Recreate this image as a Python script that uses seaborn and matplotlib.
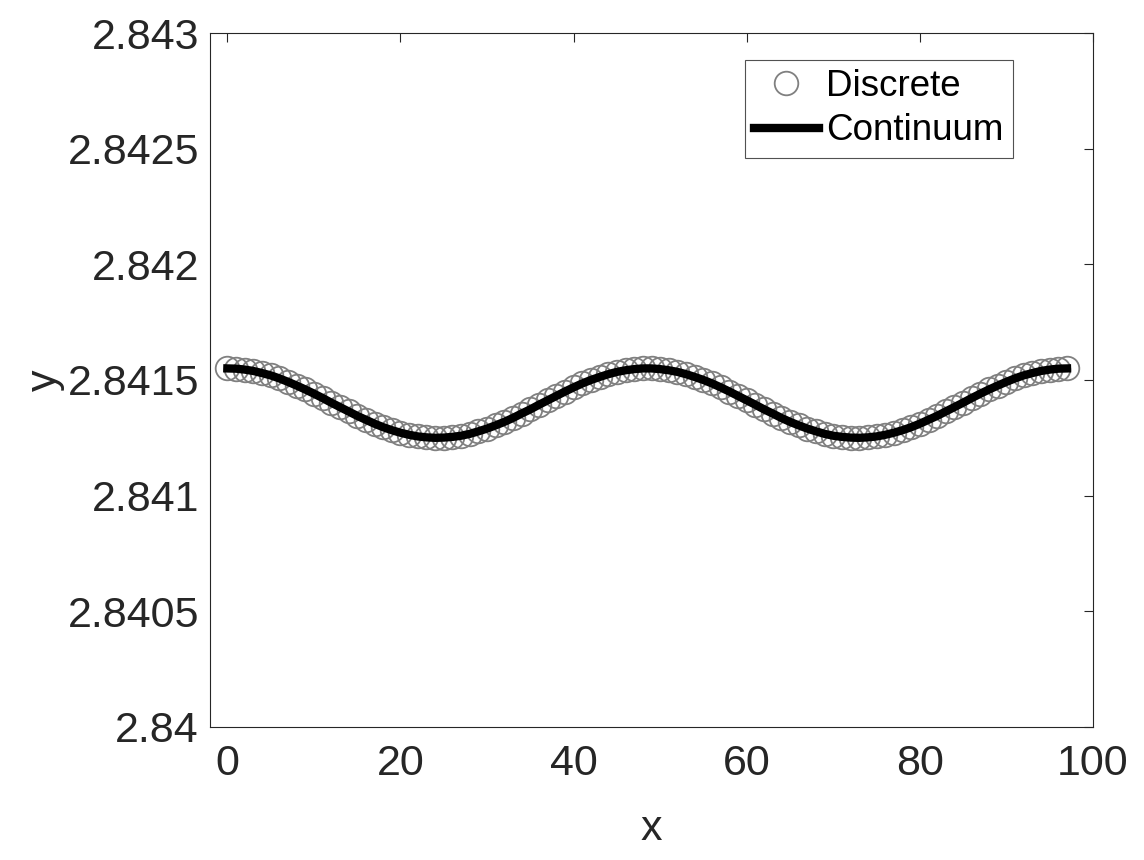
import matplotlib
matplotlib.use("Agg")
import matplotlib.pyplot as plt
import seaborn as sns
import numpy as np
import pandas as pd

# discrete points (x = 0..97)
x_disc = np.arange(98)
y_disc = [
    2.841550, 2.841549, 2.841545, 2.841539, 2.841530, 2.841520, 2.841507, 2.841492,
    2.841476, 2.841459, 2.841441, 2.841422, 2.841402, 2.841383, 2.841364, 2.841345,
    2.841328, 2.841311, 2.841296, 2.841283, 2.841272, 2.841263, 2.841256, 2.841252,
    2.841250, 2.841251, 2.841254, 2.841259, 2.841267, 2.841278, 2.841290, 2.841304,
    2.841319, 2.841336, 2.841355, 2.841373, 2.841393, 2.841412, 2.841431, 2.841450,
    2.841468, 2.841485, 2.841500, 2.841513, 2.841525, 2.841535, 2.841542, 2.841547,
    2.841550, 2.841550, 2.841547, 2.841542, 2.841535, 2.841525, 2.841513, 2.841500,
    2.841485, 2.841468, 2.841450, 2.841431, 2.841412, 2.841393, 2.841373, 2.841355,
    2.841336, 2.841319, 2.841304, 2.841290, 2.841278, 2.841267, 2.841259, 2.841254,
    2.841251, 2.841250, 2.841252, 2.841256, 2.841263, 2.841272, 2.841283, 2.841296,
    2.841311, 2.841328, 2.841345, 2.841364, 2.841383, 2.841402, 2.841422, 2.841441,
    2.841459, 2.841476, 2.841492, 2.841507, 2.841520, 2.841530, 2.841539, 2.841545,
    2.841549, 2.841550,
]

# continuum curve follows the same shape
x_cont = x_disc
y_cont = y_disc

y_ticks = [2.84, 2.8405, 2.841, 2.8415, 2.842, 2.8425, 2.843]
y_ticklabels = ["2.84", "2.8405", "2.841", "2.8415", "2.842", "2.8425", "2.843"]
x_ticks = [0, 20, 40, 60, 80, 100]

sns.set_style("white")
plt.rcParams["font.family"] = ["Liberation Sans", "DejaVu Sans"]

disc = pd.DataFrame({"x": x_disc, "y": y_disc})
cont = pd.DataFrame({"x": x_cont, "y": y_cont})

fig = plt.figure(figsize=(11.44, 8.6), dpi=100)
ax = fig.add_axes([0.1836, 0.1547, 0.7718, 0.8069])

sns.lineplot(data=disc, x="x", y="y", ax=ax, linestyle="", marker="o",
             markersize=17, markerfacecolor="none", markeredgecolor="#808080",
             markeredgewidth=1.3, color="#808080", label="Discrete")
sns.lineplot(data=cont, x="x", y="y", ax=ax, color="black", linewidth=6,
             solid_capstyle="projecting", label="Continuum")

ax.set_xlim(-2, 100)
ax.set_ylim(2.84, 2.843)
ax.set_xticks(x_ticks)
ax.set_xticklabels([str(t) for t in x_ticks])
ax.set_yticks(y_ticks)
ax.set_yticklabels(y_ticklabels)

ax.tick_params(direction="in", length=6.5, width=0.8, colors="#262626",
               labelsize=31, top=True, right=True, pad=8)
ax.tick_params(axis="x", pad=12)
for sp in ax.spines.values():
    sp.set_color("#262626")
    sp.set_linewidth(0.8)

ax.set_xlabel("x", fontsize=31, color="#262626", labelpad=18)
ax.set_ylabel("y", fontsize=31, color="#262626", labelpad=2)

leg = ax.legend(loc="upper right", bbox_to_anchor=(0.909, 0.961), fontsize=26.5,
                frameon=True, fancybox=False, edgecolor="#262626",
                labelcolor="black", handlelength=1.75, handletextpad=0.2,
                borderpad=0.25, labelspacing=0.25, borderaxespad=0)
leg.get_frame().set_linewidth(0.8)

fig.savefig("out.png", dpi=100)
